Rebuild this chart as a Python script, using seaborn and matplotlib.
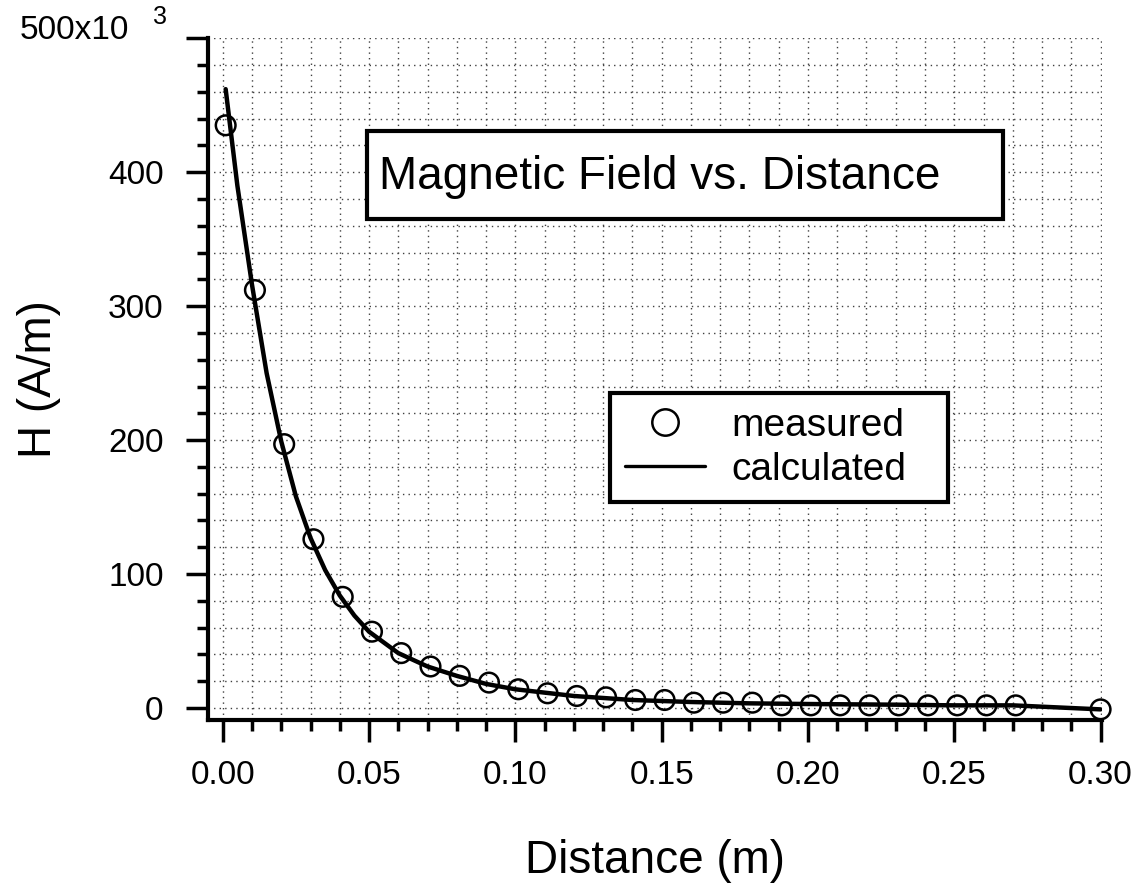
import matplotlib
matplotlib.use("Agg")
import matplotlib.pyplot as plt
import pandas as pd
import seaborn as sns
from matplotlib.lines import Line2D
from matplotlib.patches import Rectangle
from matplotlib.ticker import MultipleLocator

# measured points (distance in m, H in kA/m)
meas_x = [0.001, 0.011, 0.021, 0.031, 0.041, 0.051, 0.061, 0.071, 0.081, 0.091,
          0.101, 0.111, 0.121, 0.131, 0.141, 0.151, 0.161, 0.171, 0.181, 0.191,
          0.201, 0.211, 0.221, 0.231, 0.241, 0.251, 0.261, 0.271, 0.300]
meas_h = [435, 312, 197, 126, 83, 57, 41, 31, 24, 19,
          14, 11, 9, 8, 6, 6, 4, 4, 4, 2,
          2, 2, 2, 2, 2, 2, 2, 2, -1]

# calculated curve
calc_x = [0.001, 0.005, 0.010, 0.015, 0.020, 0.025, 0.030, 0.035, 0.040, 0.045,
          0.050, 0.060, 0.070, 0.080, 0.090, 0.100, 0.120, 0.140, 0.160, 0.180,
          0.200, 0.230, 0.250, 0.270, 0.300]
calc_h = [462, 390, 316, 250, 199, 158, 127, 103, 84, 69,
          57, 41, 31, 24, 18, 14, 9, 6, 4.5, 3.5,
          3, 2.5, 2, 2, -1]

x_ticks = [0, 0.05, 0.10, 0.15, 0.20, 0.25, 0.30]
x_ticklabels = ['0.00', '0.05', '0.10', '0.15', '0.20', '0.25', '0.30']
y_ticks = [0, 100, 200, 300, 400, 500]
y_ticklabels = ['0', '100', '200', '300', '400', '']

meas_df = pd.DataFrame({'x': meas_x, 'h': meas_h})
calc_df = pd.DataFrame({'x': calc_x, 'h': calc_h})

sns.set_style('white')
plt.rcParams['font.family'] = ['Liberation Sans', 'DejaVu Sans']
plt.rcParams['text.color'] = 'black'
plt.rcParams['axes.labelcolor'] = 'black'

fig = plt.figure(figsize=(11.31, 8.89), dpi=100)
ax = fig.add_axes([0.184, 0.190, 0.7904, 0.767])

sns.lineplot(data=calc_df, x='x', y='h', color='black', linewidth=3.2, ax=ax,
             estimator=None, sort=False, zorder=3)
sns.scatterplot(data=meas_df, x='x', y='h', marker='o', s=200, facecolors='none',
                edgecolor='black', linewidth=1.8, ax=ax, zorder=4, clip_on=False)

ax.set_xlim(-0.005, 0.3005)
ax.set_ylim(-9, 500)

ax.xaxis.set_minor_locator(MultipleLocator(0.01))
ax.yaxis.set_minor_locator(MultipleLocator(20))
ax.set_xticks(x_ticks)
ax.set_xticklabels(x_ticklabels)
ax.set_yticks(y_ticks)
ax.set_yticklabels(y_ticklabels)

ax.grid(which='both', color='0.25', linestyle=(0, (1, 3)), linewidth=1.0)
ax.set_axisbelow(True)

for side in ['top', 'right']:
    ax.spines[side].set_visible(False)
for side in ['left', 'bottom']:
    ax.spines[side].set_linewidth(3)
    ax.spines[side].set_color('black')

ax.tick_params(which='major', direction='out', length=16, width=2.5,
               labelsize=24, colors='black')
ax.tick_params(axis='x', which='major', pad=13)
ax.tick_params(axis='y', which='major', pad=16)
ax.tick_params(which='minor', direction='out', length=8, width=2.5, colors='black')
ax.tick_params(axis='x', which='both', bottom=True)
ax.tick_params(axis='y', which='both', left=True)

ax.set_xlabel('Distance (m)', fontsize=33, labelpad=34)
ax.set_ylabel('H (A/m)', fontsize=33, labelpad=34)

fig.text(0.017, 0.966, '500x10', fontsize=24, ha='left', va='center')
fig.text(0.135, 0.981, '3', fontsize=18, ha='left', va='center')

# title box
ax.add_patch(Rectangle((0.178, 0.7346), 0.711, 0.129, transform=ax.transAxes,
                       fc='white', ec='black', lw=3, zorder=5))
ax.text(0.191, 0.797, 'Magnetic Field vs. Distance', transform=ax.transAxes,
        fontsize=33, ha='left', va='center', zorder=6)

handles = [
    Line2D([], [], marker='o', linestyle='none', markerfacecolor='none',
           markeredgecolor='black', markersize=19, markeredgewidth=1.8),
    Line2D([], [], color='black', linewidth=2.4),
]
leg = ax.legend(handles, ['measured', 'calculated'], loc='upper left',
                bbox_to_anchor=(0.4497, 0.3, 0.378, 0.1795), mode='expand',
                fontsize=28, frameon=True,
                fancybox=False, edgecolor='black', framealpha=1,
                handlelength=2.05, handletextpad=0.7, borderpad=0.38,
                labelspacing=0.2, borderaxespad=0)
leg.get_frame().set_linewidth(3)
leg.set_zorder(6)

fig.savefig('out.png', dpi=100)
